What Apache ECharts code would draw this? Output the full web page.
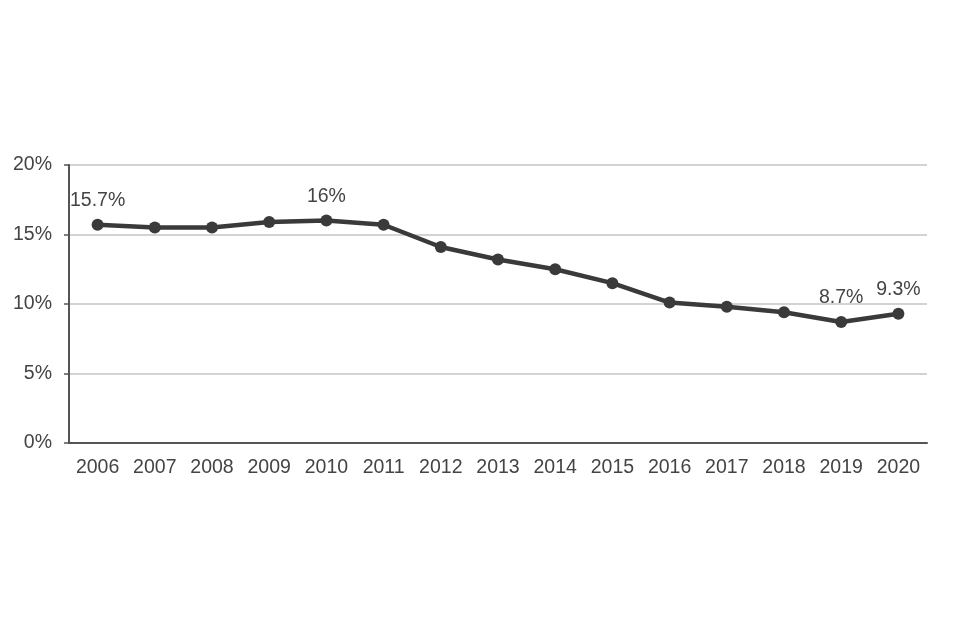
<!DOCTYPE html>
<html>
<head>
<meta charset="utf-8">
<script src="https://cdn.jsdelivr.net/npm/echarts@6/dist/echarts.min.js"></script>
<style>html,body{margin:0;padding:0;background:#fff;}#c{width:960px;height:640px;}</style>
</head>
<body>
<div id="c"></div>
<script>
const years = ['2006','2007','2008','2009','2010','2011','2012','2013','2014','2015','2016','2017','2018','2019','2020'];
const values = [15.7,15.5,15.5,15.9,16.0,15.7,14.1,13.2,12.5,11.5,10.1,9.8,9.4,8.7,9.3];
const labelled = {0:'15.7%',4:'16%',13:'8.7%',14:'9.3%'};
const yTicks = [0,5,10,15,20];
const FONT = 'Liberation Sans, Arial, sans-serif';

const chart = echarts.init(document.getElementById('c'));
chart.setOption({
  backgroundColor:'#fff',
  animation:false,
  grid:{left:69,right:33,top:165,bottom:197},
  xAxis:{
    type:'category',data:years,boundaryGap:true,
    axisLine:{lineStyle:{color:'#555',width:2}},
    axisTick:{alignWithLabel:true,length:5,lineStyle:{color:'#555',width:1.5}},
    axisLabel:{color:'#444',fontSize:19.5,fontFamily:FONT,margin:15}
  },
  yAxis:{
    type:'value',min:yTicks[0],max:yTicks[yTicks.length-1],interval:5,
    axisLine:{show:true,lineStyle:{color:'#555',width:2}},
    axisTick:{show:true,length:5,lineStyle:{color:'#555',width:1.5}},
    axisLabel:{color:'#444',fontSize:19.5,fontFamily:FONT,margin:17,formatter:v=>v+'%'},
    splitLine:{lineStyle:{color:'#c4c4c4',width:1.5}}
  },
  series:[{
    type:'line',
    data:values.map((v,i)=>({value:v,label:{show:labelled[i]!==undefined,formatter:labelled[i]||''}})),
    symbol:'circle',symbolSize:12,
    lineStyle:{color:'#3a3a3a',width:4.5},
    itemStyle:{color:'#3a3a3a'},
    label:{position:'top',distance:8,color:'#444',fontSize:19.5,fontFamily:FONT}
  }]
});
</script>
</body>
</html>
